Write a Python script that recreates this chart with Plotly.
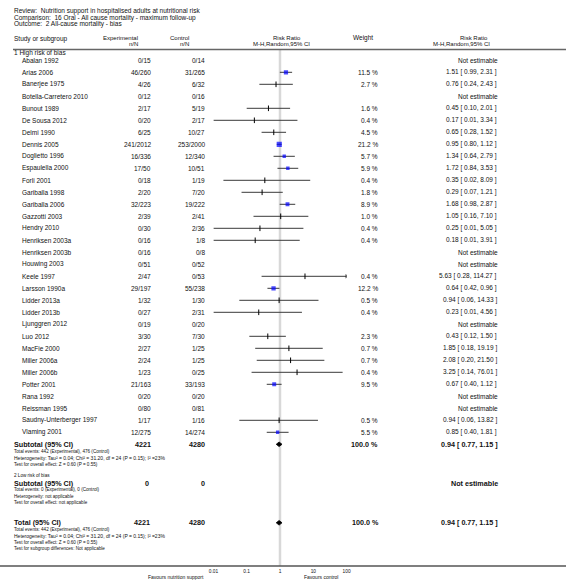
import plotly.graph_objects as go

# ---------------- data ----------------
studies = ["Abalan 1992", "Arias 2006", "Banerjee 1975", "Botella-Carretero 2010", "Bunout 1989",
           "De Sousa 2012", "Delmi 1990", "Dennis 2005", "Doglietto 1996", "Espaulella 2000",
           "Forli 2001", "Gariballa 1998", "Gariballa 2006", "Gazzotti 2003", "Hendry 2010",
           "Henriksen 2003a", "Henriksen 2003b", "Houwing 2003", "Keele 1997", "Larsson 1990a",
           "Lidder 2013a", "Lidder 2013b", "Ljunggren 2012", "Luo 2012", "MacFie 2000",
           "Miller 2006a", "Miller 2006b", "Potter 2001", "Rana 1992", "Reissman 1995",
           "Saudny-Unterberger 1997", "Vlaming 2001"]
exp_n = ["0/15", "46/260", "4/26", "0/12", "2/17", "0/20", "6/25", "241/2012", "16/336", "17/50",
         "0/18", "2/20", "32/223", "2/39", "0/30", "0/16", "0/16", "0/51", "2/47", "29/197",
         "1/32", "0/27", "0/19", "3/30", "2/27", "2/24", "1/23", "21/163", "0/20", "0/80",
         "1/17", "12/275"]
ctl_n = ["0/14", "31/265", "6/32", "0/16", "5/19", "2/17", "10/27", "253/2000", "12/340", "10/51",
         "1/19", "7/20", "19/222", "2/41", "2/36", "1/8", "0/8", "0/52", "0/53", "55/238",
         "1/30", "2/31", "0/20", "7/30", "1/25", "1/25", "0/25", "33/193", "0/20", "0/81",
         "1/16", "14/274"]
weights = [None, 11.5, 2.7, None, 1.6, 0.4, 4.5, 21.2, 5.7, 5.9,
           0.4, 1.8, 8.9, 1.0, 0.4, 0.4, None, None, 0.4, 12.2,
           0.5, 0.4, None, 2.3, 0.7, 0.7, 0.4, 9.5, None, None,
           0.5, 5.5]
rr = [None, 1.51, 0.76, None, 0.45, 0.17, 0.65, 0.95, 1.34, 1.72,
      0.35, 0.29, 1.68, 1.05, 0.25, 0.18, None, None, 5.63, 0.64,
      0.94, 0.23, None, 0.43, 1.85, 2.08, 3.25, 0.67, None, None,
      0.94, 0.85]
ci_lo = [None, 0.99, 0.24, None, 0.10, 0.01, 0.28, 0.80, 0.64, 0.84,
         0.02, 0.07, 0.98, 0.16, 0.01, 0.01, None, None, 0.28, 0.42,
         0.06, 0.01, None, 0.12, 0.18, 0.20, 0.14, 0.40, None, None,
         0.06, 0.40]
ci_hi = [None, 2.31, 2.43, None, 2.01, 3.34, 1.52, 1.12, 2.79, 3.53,
         8.09, 1.21, 2.87, 7.10, 5.05, 3.91, None, None, 114.27, 0.96,
         14.33, 4.56, None, 1.50, 19.19, 21.50, 76.01, 1.12, None, None,
         13.82, 1.81]
pooled = {"rr": 0.94, "lo": 0.77, "hi": 1.15}
tick_vals = [0.01, 0.1, 1, 10, 100]
tick_text = ["0.01", "0.1", "1", "10", "100"]

# ---------------- layout helpers ----------------
W, H = 566, 583
ROW0, ROW_H = 60.3, 12.0
BOTTOM = 566.0
XMIN, XMAX = 0.01, 100


def r(p):
    return (p - ROW0) / ROW_H


def px(x):
    return x / W


def py(p):
    return 1 - p / H


FONT = "Liberation Sans, Arial, sans-serif"
FS, FSH, FSB, FSS, FSX = 6.5, 6.0, 7.2, 4.6, 4.8
TXT = "#111111"

annotations = []


def text(x, y_px, s, anchor="left", size=FS, bold=False):
    if bold:
        s = "<b>" + s + "</b>"
    annotations.append(dict(x=px(x), xref="paper", y=py(y_px), yref="paper", text=s,
                            showarrow=False, xanchor=anchor, yanchor="middle",
                            font=dict(family=FONT, size=size, color=TXT), borderpad=0))


fig = go.Figure()

# reference line at RR = 1
fig.add_trace(go.Scatter(x=[1, 1], y=[r(49.5), r(BOTTOM)], mode="lines",
                         line=dict(color="#d8d8d8", width=2.5), hoverinfo="skip"))

# CI lines
cx, cy = [], []
arrow_x, arrow_y = [], []
for i, (lo, hi) in enumerate(zip(ci_lo, ci_hi)):
    if lo is None:
        continue
    h = min(hi, XMAX)
    cx += [max(lo, XMIN), h, None]
    cy += [i, i, None]
    if hi > XMAX:
        arrow_x.append(XMAX)
        arrow_y.append(i)
fig.add_trace(go.Scatter(x=cx, y=cy, mode="lines", line=dict(color="#3a3a3a", width=1),
                         hoverinfo="skip"))
fig.add_trace(go.Scatter(x=arrow_x, y=arrow_y, mode="markers",
                         marker=dict(symbol="triangle-right", size=4, color="#222222"),
                         hoverinfo="skip"))

# point estimates
sq_x, sq_y, sq_s, tk_x, tk_y = [], [], [], [], []
for i, (v, w) in enumerate(zip(rr, weights)):
    if v is None:
        continue
    if w >= 5:
        sq_x.append(v); sq_y.append(i); sq_s.append(0.8 * w ** 0.5 + 1.5)
    else:
        tk_x.append(v); tk_y.append(i)
fig.add_trace(go.Scatter(x=sq_x, y=sq_y, mode="markers",
                         marker=dict(symbol="square", size=sq_s, color="#0000ff", line=dict(width=0)),
                         hoverinfo="skip"))
fig.add_trace(go.Scatter(x=tk_x, y=tk_y, mode="markers",
                         marker=dict(symbol="line-ns", size=4, line=dict(color="#000000", width=1)),
                         hoverinfo="skip"))

# pooled diamonds
SUB_PX, TOT_PX = 444.3, 522.8
for yp in (SUB_PX, TOT_PX):
    yc = r(yp)
    dh = 2.3 / ROW_H
    fig.add_trace(go.Scatter(x=[pooled["lo"], pooled["rr"], pooled["hi"], pooled["rr"], pooled["lo"]],
                             y=[yc, yc - dh, yc, yc + dh, yc], mode="lines", fill="toself",
                             fillcolor="#000000", line=dict(color="#000000", width=0.8),
                             hoverinfo="skip"))

# ---------------- text ----------------
text(13, 10.7, "Review:  Nutrition support in hospitalised adults at nutritional risk")
text(13, 17.5, "Comparison:  16 Oral - All cause mortality - maximum follow-up")
text(13, 24.2, "Outcome:  2 All-cause mortality - bias")

text(13, 39.3, "Study or subgroup")
text(139, 38.0, "Experimental", "right", FSH)
text(139, 44.3, "n/N", "right", FSH)
text(190, 38.0, "Control", "right", FSH)
text(190, 44.3, "n/N", "right", FSH)
text(286.7, 37.6, "Risk Ratio", "center", FSH)
text(281, 43.8, "M-H,Random,95% CI", "center", FSH)
text(374, 37.7, "Weight", "right")
text(473.8, 37.6, "Risk Ratio", "center", FSH)
text(461.8, 43.8, "M-H,Random,95% CI", "center", FSH)

text(13, 53.5, "1 High risk of bias")

for i, name in enumerate(studies):
    yp = ROW0 + ROW_H * i
    text(21, yp, name)
    text(152, yp, exp_n[i], "right")
    text(206, yp, ctl_n[i], "right")
    if weights[i] is not None:
        text(379, yp, f"{weights[i]:.1f} %", "right")
        text(498, yp, f"{rr[i]:.2f} [ {ci_lo[i]:.2f}, {ci_hi[i]:.2f} ]", "right")
    else:
        text(499, yp, "Not estimable", "right")

pooled_txt = f"{pooled['rr']:.2f} [ {pooled['lo']:.2f}, {pooled['hi']:.2f} ]"
het = "Heterogeneity: Tau² = 0.04; Chi² = 31.20, df = 24 (P = 0.15); I² =23%"

text(13, SUB_PX, "Subtotal (95% CI)", size=FSB, bold=True)
text(152, SUB_PX, "4221", "right", FSB, True)
text(206, SUB_PX, "4280", "right", FSB, True)
text(379, SUB_PX, "100.0 %", "right", FSB, True)
text(499, SUB_PX, pooled_txt, "right", FSB, True)
text(13, 451.0, "Total events: 442 (Experimental), 476 (Control)", size=FSS)
text(13, 457.5, het, size=5.0)
text(13, 464.0, "Test for overall effect: Z = 0.60 (P = 0.55)", size=FSS)

text(13, 475.2, "2 Low risk of bias", size=FSS)
text(13, 483.0, "Subtotal (95% CI)", size=FSB, bold=True)
text(150, 483.0, "0", "right", FSB, True)
text(206, 483.0, "0", "right", FSB, True)
text(499, 483.0, "Not estimable", "right", FSB, True)
text(13, 489.7, "Total events: 0 (Experimental), 0 (Control)", size=FSS)
text(13, 496.1, "Heterogeneity: not applicable", size=FSS)
text(13, 502.6, "Test for overall effect: not applicable", size=FSS)

text(13, TOT_PX, "Total (95% CI)", size=FSB, bold=True)
text(151, TOT_PX, "4221", "right", FSB, True)
text(206, TOT_PX, "4280", "right", FSB, True)
text(380, TOT_PX, "100.0 %", "right", FSB, True)
text(499, TOT_PX, pooled_txt, "right", FSB, True)
text(13, 529.5, "Total events: 442 (Experimental), 476 (Control)", size=FSS)
text(13, 535.9, het, size=5.0)
text(13, 542.3, "Test for overall effect: Z = 0.60 (P = 0.55)", size=FSS)
text(13, 548.8, "Test for subgroup differences: Not applicable", size=FSS)

text(205, 577.3, "Favours nutrition support", "right", 5.0)
text(303, 577.3, "Favours control", "left", 5.0)

shapes = [
    dict(type="line", xref="paper", yref="paper", x0=px(13), x1=1, y0=py(49.5), y1=py(49.5),
         line=dict(color="#666666", width=1.3)),
    dict(type="line", xref="paper", yref="paper", x0=0, x1=1, y0=py(BOTTOM), y1=py(BOTTOM),
         line=dict(color="#555555", width=1.3)),
]

fig.update_layout(
    width=W, height=H, autosize=False,
    margin=dict(l=0, r=0, t=0, b=0),
    paper_bgcolor="white", plot_bgcolor="white",
    showlegend=False, hovermode=False,
    annotations=annotations, shapes=shapes,
    xaxis=dict(type="log", range=[-2, 2], domain=[213.4 / W, 346.6 / W],
               tickvals=tick_vals, ticktext=tick_text, ticks="", showgrid=False,
               zeroline=False, showline=False, automargin=False,
               tickfont=dict(family=FONT, size=FSX, color=TXT), ticklabelstandoff=1),
    yaxis=dict(range=[r(BOTTOM), r(0)], domain=[(H - BOTTOM) / H, 1], visible=False,
               showgrid=False, zeroline=False, automargin=False),
)

fig.write_html("out.html", config={"displayModeBar": False, "staticPlot": True},
               post_script="document.body.style.margin='0';document.body.style.overflow='hidden';")
